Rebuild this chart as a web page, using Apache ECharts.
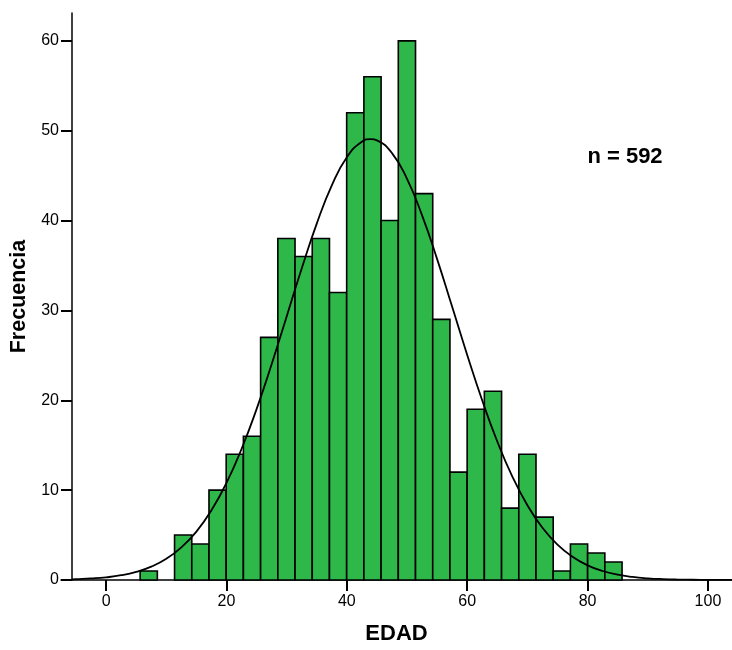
<!DOCTYPE html>
<html>
<head>
<meta charset="utf-8">
<script src="https://cdn.jsdelivr.net/npm/echarts@6/dist/echarts.min.js"></script>
<style>html,body{margin:0;padding:0;background:#fff}#c{width:732px;height:650px}</style>
</head>
<body>
<div id="c"></div>
<script>
// Histogram data (EDAD)
const binStart = 5.65;
const binWidth = 2.86;
const counts = [1, 0, 5, 4, 10, 14, 16, 27, 38, 36, 38, 32, 52, 56, 40, 60, 43, 29, 12, 19, 21, 8, 14, 7, 1, 4, 3, 2];
// Normal curve
const curveX = [-5.65, -5, -2.5, 0, 2.5, 5, 7.5, 10, 12.5, 15, 17.5, 20, 22.5, 25, 27.5, 30, 32.5, 35, 37.5, 40, 42.5, 44, 45, 47.5, 50, 52.5, 55, 57.5, 60, 62.5, 65, 67.5, 70, 72.5, 75, 77.5, 80, 82.5, 85, 87.5, 90, 92.5, 95, 97.5, 100, 102.5, 104];
const curveY = [0.07, 0.09, 0.17, 0.30, 0.53, 0.91, 1.49, 2.36, 3.63, 5.39, 7.76, 10.81, 14.58, 19.02, 24.01, 29.33, 34.67, 39.66, 43.91, 47.04, 48.77, 49.06, 48.93, 47.51, 44.64, 40.58, 35.71, 30.40, 25.05, 19.97, 15.41, 11.51, 8.32, 5.81, 3.94, 2.58, 1.63, 1.00, 0.59, 0.34, 0.19, 0.10, 0.05, 0.03, 0.013, 0.006, 0.004];
const xTicks = [0, 20, 40, 60, 80, 100];
const yTicks = [0, 10, 20, 30, 40, 50, 60];
const sampleText = 'n = 592';

const bars = counts.map((c, i) => [binStart + i * binWidth, binStart + (i + 1) * binWidth, c]).filter(d => d[2] > 0);
const curve = curveX.map((x, i) => [x, curveY[i]]);

const chart = echarts.init(document.getElementById('c'), null, {renderer: 'canvas'});
const font = 'Liberation Sans, Arial, sans-serif';
chart.setOption({
  animation: false,
  backgroundColor: '#ffffff',
  grid: {left: 61, right: 0, top: 13, bottom: 66, containLabel: false},
  xAxis: {
    type: 'value', min: -7.5, max: 104,
    name: 'EDAD', nameLocation: 'middle', nameGap: 43,
    nameTextStyle: {fontFamily: font, fontSize: 22, fontWeight: 'bold', color: '#000'},
    axisLine: {show: true, onZero: false, lineStyle: {color: '#000', width: 1.5}},
    axisTick: {show: true, length: 11, lineStyle: {color: '#000', width: 2}, customValues: xTicks},
    axisLabel: {fontFamily: font, fontSize: 16, color: '#000', margin: 14, customValues: xTicks},
    splitLine: {show: false}
  },
  yAxis: {
    type: 'value', min: 0, max: 63.1, offset: -11,
    name: 'Frecuencia', nameLocation: 'middle', nameGap: 39,
    nameTextStyle: {fontFamily: font, fontSize: 21.5, fontWeight: 'bold', color: '#000'},
    axisLine: {show: true, onZero: false, lineStyle: {color: '#000', width: 1.5}},
    axisTick: {show: true, length: 11, lineStyle: {color: '#000', width: 2}, customValues: yTicks},
    axisLabel: {fontFamily: font, fontSize: 16, color: '#000', margin: 13, customValues: yTicks},
    splitLine: {show: false}
  },
  series: [
    {
      type: 'custom',
      data: bars,
      encode: {x: [0, 1], y: 2},
      renderItem: function (params, api) {
        const p0 = api.coord([api.value(0), 0]);
        const p1 = api.coord([api.value(1), api.value(2)]);
        return {
          type: 'rect',
          shape: {x: p0[0], y: p1[1], width: p1[0] - p0[0], height: p0[1] - p1[1]},
          style: {fill: '#2fb84a', stroke: '#000', lineWidth: 1.6}
        };
      },
      z: 2
    },
    {
      type: 'line',
      data: curve,
      smooth: true,
      showSymbol: false,
      lineStyle: {color: '#000', width: 1.8},
      z: 3
    }
  ],
  graphic: [{
    type: 'text', x: 625, y: 157,
    style: {text: sampleText, fontFamily: font, fontSize: 22, fontWeight: 'bold', fill: '#000', align: 'center', verticalAlign: 'middle'}
  }]
});
</script>
</body>
</html>
